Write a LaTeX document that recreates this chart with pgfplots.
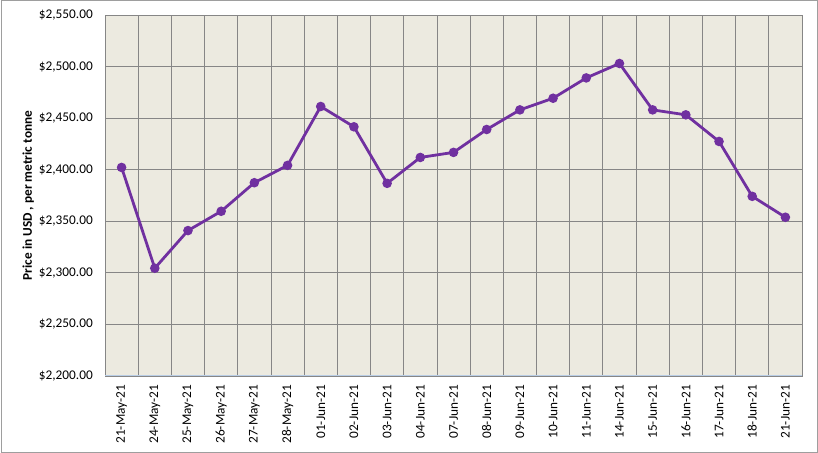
\documentclass[border=0pt]{standalone}
\usepackage{pgfplots}
\pgfplotsset{compat=1.18}
\usepackage{fontspec}
\setmainfont{Carlito}
\definecolor{bgc}{HTML}{ECEAE0}
\definecolor{gridc}{HTML}{868686}
\definecolor{linec}{HTML}{7030A0}
\definecolor{basec}{HTML}{B9CDE5}
\begin{document}
\begin{tikzpicture}[x=1bp,y=1bp]
\useasboundingbox (0bp,0bp) rectangle (818bp,453bp);
\draw[color=gridc!80, line width=1bp] (1bp,1bp) rectangle (817bp,452bp);
\begin{axis}[
  at={(105bp,77bp)}, anchor=south west,
  scale only axis, width=697bp, height=361bp,
  xmin=-0.5, xmax=20.5, ymin=2200, ymax=2550,
  axis background/.style={fill=bgc},
  axis line style={draw=gridc, line width=0.8bp},
  xtick={0,...,20},
  xticklabels={21-May-21,24-May-21,25-May-21,26-May-21,27-May-21,28-May-21,01-Jun-21,02-Jun-21,03-Jun-21,04-Jun-21,07-Jun-21,08-Jun-21,09-Jun-21,10-Jun-21,11-Jun-21,14-Jun-21,15-Jun-21,16-Jun-21,17-Jun-21,18-Jun-21,21-Jun-21},
  minor xtick={-0.5,0.5,...,20.5},
  xminorgrids=true, ymajorgrids=true,
  major tick length=0pt, minor tick length=0pt,
  grid style={draw=gridc, line width=0.8bp},
  minor grid style={draw=gridc, line width=0.8bp},
  ytick={2200,2250,...,2550},
  yticklabels={{\$2,200.00},{\$2,250.00},{\$2,300.00},{\$2,350.00},{\$2,400.00},{\$2,450.00},{\$2,500.00},{\$2,550.00}},
  tick label style={font=\fontsize{13.3bp}{16bp}\selectfont, text=black},
  xticklabel style={rotate=90, anchor=east, inner sep=0pt, xshift=-9bp},
  yticklabel style={anchor=east, inner sep=0pt, xshift=-12bp},
  ylabel={Price in USD , per metric tonne},
  ylabel style={font=\fontsize{13.3bp}{16bp}\selectfont\bfseries, at={(axis description cs:-0.110,0.5)}, anchor=center, rotate=0},
  clip=false,
]
\addplot[color=linec, line width=2.8bp, mark=*, mark size=3.3bp, mark options={fill=linec, draw=linec}] coordinates {
(0,2402.2) (1,2304.5) (2,2341) (3,2359.7) (4,2387.4) (5,2404.2) (6,2461.3) (7,2441.6) (8,2386.8) (9,2411.9) (10,2416.8) (11,2439) (12,2458) (13,2469.3) (14,2489) (15,2503) (16,2458) (17,2453.2) (18,2427.4) (19,2374.2) (20,2353.9)
};
\draw[basec, line width=1bp] (axis cs:-0.5,2200) -- (axis cs:20.5,2200);
\end{axis}
\end{tikzpicture}
\end{document}
